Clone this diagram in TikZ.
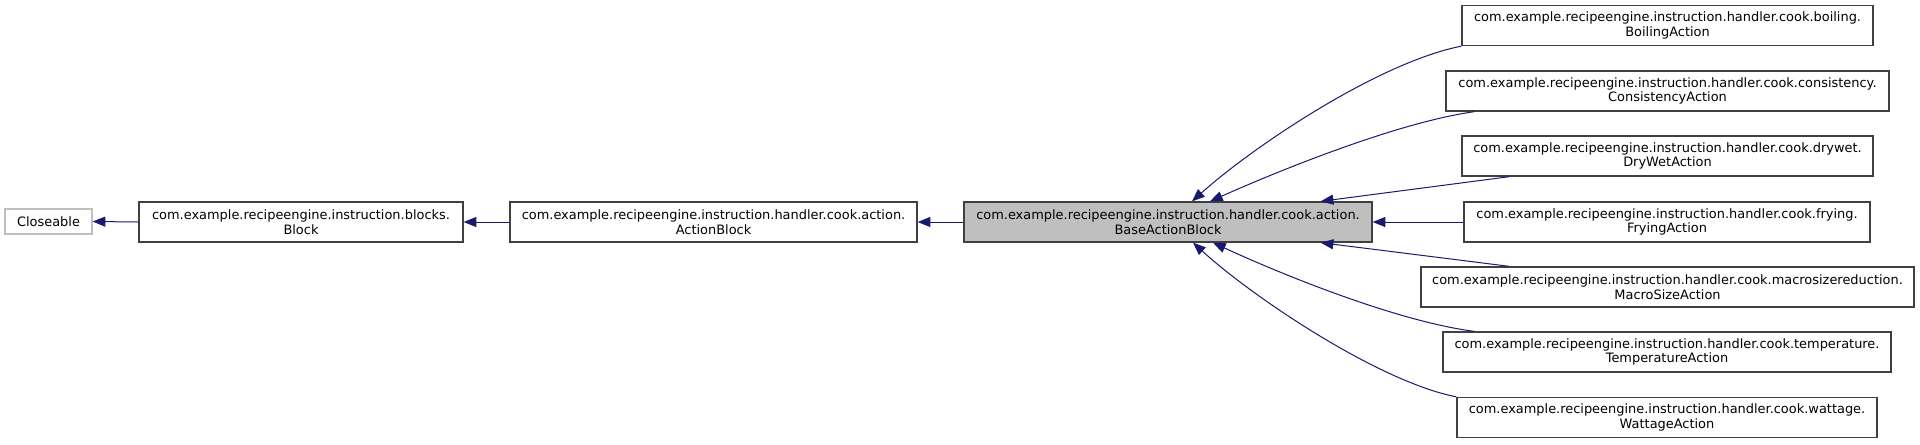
\documentclass[tikz,border=0pt]{standalone}
\usepackage{fontspec}
\setmainfont{DejaVu Sans}
\usetikzlibrary{arrows.meta,calc}
\definecolor{edgecol}{HTML}{191970}
\definecolor{boxborder}{HTML}{404040}
\definecolor{grayfill}{HTML}{BFBFBF}
\definecolor{lightborder}{HTML}{BFBFBF}
\begin{document}
\begin{tikzpicture}[x=0.75pt,y=-0.75pt,
  cls/.style={draw=boxborder, line width=1pt, fill=white, inner sep=0pt,
    align=center, minimum height=30pt, font=\fontsize{9.7}{11}\selectfont},
  ext/.style={cls, draw=lightborder, minimum height=18.75pt},
  cur/.style={cls, fill=grayfill},
  inh/.style={draw=edgecol, line width=0.75pt,
    -{Triangle[length=9.5pt,width=7.5pt,fill=edgecol]}}]
\fill[white] (0,0) rectangle (1920,444);
\useasboundingbox (0,0) rectangle (1920,444);

\node[ext, minimum width=65.25pt] (close) at (48.5,221.5) {Closeable};
\node[cls, minimum width=243pt] (block) at (301,222)
  {com.example.recipeengine.instruction.blocks.\\Block};
\node[cls, minimum width=305.25pt] (action) at (713.5,222)
  {com.example.recipeengine.instruction.handler.cook.action.\\ActionBlock};
\node[cur, minimum width=306pt] (base) at (1168,222)
  {com.example.recipeengine.instruction.handler.cook.action.\\BaseActionBlock};

\node[cls, minimum width=308.25pt] (boil) at (1667.5,25.5)
  {com.example.recipeengine.instruction.handler.cook.boiling.\\BoilingAction};
\node[cls, minimum width=332.25pt] (cons) at (1667.5,91)
  {com.example.recipeengine.instruction.handler.cook.consistency.\\ConsistencyAction};
\node[cls, minimum width=308.25pt] (dry) at (1667.5,156)
  {com.example.recipeengine.instruction.handler.cook.drywet.\\DryWetAction};
\node[cls, minimum width=304.5pt] (fry) at (1667,222)
  {com.example.recipeengine.instruction.handler.cook.frying.\\FryingAction};
\node[cls, minimum width=369.75pt] (macro) at (1667.5,287)
  {com.example.recipeengine.instruction.handler.cook.macrosizereduction.\\MacroSizeAction};
\node[cls, minimum width=336pt] (temp) at (1667,352)
  {com.example.recipeengine.instruction.handler.cook.temperature.\\TemperatureAction};
\node[cls, minimum width=315pt] (watt) at (1667,417.5)
  {com.example.recipeengine.instruction.handler.cook.wattage.\\WattageAction};

\draw[inh] (block.west) -- (close.east);
\draw[inh] (action.west) -- (block.east);
\draw[inh] (base.west) -- (action.east);

\draw[inh] (boil.south west) .. controls (1380,62) and (1255,145) .. ($(base.north)+(24,0)$);
\draw[inh] ($(cons.south west)+(29,0)$) .. controls (1400,122) and (1285,168) .. ($(base.north)+(42,0)$);
\draw[inh] ($(dry.south west)+(48,0)$) -- ($(base.north east)+(-52,0)$);
\draw[inh] (fry.west) -- (base.east);
\draw[inh] ($(macro.north west)+(89,0)$) -- ($(base.south east)+(-52,0)$);
\draw[inh] ($(temp.north west)+(32,0)$) .. controls (1400,322) and (1285,276) .. ($(base.south)+(45,0)$);
\draw[inh] (watt.north west) .. controls (1380,382) and (1255,299) .. ($(base.south)+(25,0)$);
\end{tikzpicture}
\end{document}
